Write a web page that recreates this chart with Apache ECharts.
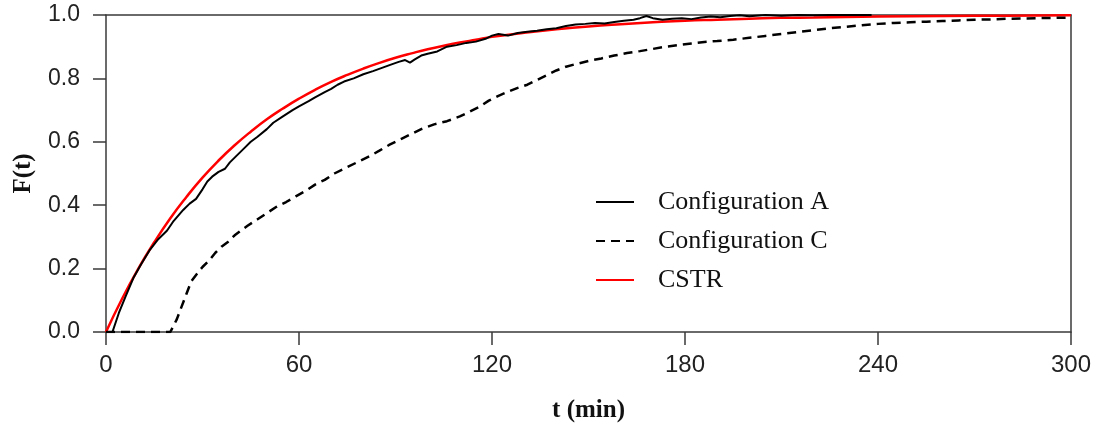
<!DOCTYPE html>
<html>
<head>
<meta charset="utf-8">
<script src="https://cdn.jsdelivr.net/npm/echarts@6/dist/echarts.min.js"></script>
<style>
  html, body { margin: 0; padding: 0; background: #fff; }
  #chart { width: 1093px; height: 425px; }
</style>
</head>
<body>
<div id="chart"></div>
<script>
// Cumulative residence time distribution F(t) vs time (min)
const xTicks = [0, 60, 120, 180, 240, 300];
const yTicks = [0, 0.2, 0.4, 0.6, 0.8, 1.0];

// Configuration A: [t (min), F(t)]
const configA = [
  [0,0],[2,0],[4,0.06],[6,0.11],[8.5,0.17],[11,0.215],[13.7,0.26],[16,0.29],[19,0.32],[21,0.35],
  [24,0.385],[26,0.405],[28,0.42],[30,0.45],[31.5,0.475],[33,0.49],[35,0.505],[37,0.515],[38.5,0.535],
  [40,0.55],[41.5,0.565],[43,0.58],[45,0.6],[47,0.615],[50,0.64],[52,0.66],[55,0.68],[58,0.7],
  [60,0.712],[63,0.728],[65,0.74],[68,0.757],[70,0.767],[72,0.78],[74,0.79],[77,0.8],[80,0.813],
  [83,0.823],[86,0.834],[89,0.845],[91,0.852],[93,0.858],[94.5,0.85],[96,0.86],[98,0.872],[100,0.878],
  [103,0.885],[106,0.9],[109,0.905],[112,0.912],[115,0.916],[118,0.925],[120,0.935],[122,0.94],
  [125,0.935],[128,0.943],[131,0.947],[134,0.95],[137,0.955],[140,0.958],[143,0.965],[146,0.97],
  [149,0.972],[152,0.975],[155,0.973],[158,0.978],[161,0.982],[164,0.985],[166,0.99],[168,0.997],
  [170,0.99],[173,0.985],[176,0.988],[179,0.99],[182,0.987],[185,0.992],[188,0.995],[191,0.993],
  [194,0.997],[197,0.999],[200,0.996],[205,1.0],[210,0.998],[215,1.0],[220,0.999],[225,1.0],
  [230,1.0],[238,1.0]
];

// Configuration C: [t (min), F(t)]
const configC = [
  [0,0],[5,0],[10,0],[15,0],[20,0],[21,0.02],[22,0.04],[23.5,0.08],[25,0.12],[26.5,0.16],[28,0.18],
  [30,0.205],[32,0.225],[34,0.25],[36,0.27],[38,0.285],[40,0.305],[42,0.32],[44,0.335],[47,0.355],
  [50,0.375],[53,0.395],[56,0.41],[59,0.428],[62,0.445],[65,0.465],[68,0.48],[71,0.5],[75,0.52],
  [78,0.535],[82,0.555],[85,0.572],[88,0.59],[92,0.61],[95,0.625],[98,0.64],[102,0.655],[106,0.665],
  [110,0.68],[113,0.695],[116,0.71],[119,0.73],[122,0.745],[125,0.758],[128,0.77],[131,0.78],
  [134,0.795],[137,0.81],[140,0.825],[143,0.837],[146,0.845],[150,0.855],[154,0.863],[158,0.872],
  [162,0.88],[166,0.886],[170,0.893],[174,0.9],[178,0.905],[182,0.91],[186,0.915],[190,0.918],
  [195,0.922],[200,0.928],[205,0.934],[210,0.94],[215,0.946],[220,0.952],[225,0.958],[230,0.963],
  [235,0.968],[240,0.972],[245,0.975],[250,0.977],[255,0.979],[260,0.981],[265,0.983],[270,0.985],
  [275,0.986],[280,0.988],[285,0.989],[290,0.99],[295,0.991],[300,0.992]
];

// Ideal CSTR: [t (min), F(t)]
const cstr = [
  [0,0],[5,0.105],[10,0.199],[15,0.283],[20,0.359],[25,0.426],[30,0.487],[35,0.541],[40,0.589],
  [45,0.632],[50,0.671],[55,0.705],[60,0.736],[65,0.764],[70,0.789],[75,0.811],[80,0.831],[85,0.849],
  [90,0.865],[95,0.879],[100,0.892],[105,0.903],[110,0.913],[115,0.922],[120,0.931],[130,0.944],
  [140,0.955],[150,0.964],[160,0.971],[170,0.977],[180,0.982],[190,0.985],[200,0.988],[210,0.991],
  [220,0.992],[240,0.995],[260,0.997],[280,0.998],[300,0.999]
];

const seriesNames = ['Configuration A', 'Configuration C', 'CSTR'];

const axisColor = '#3a3a3a';
const serif = '"Liberation Serif", "Times New Roman", serif';
const chart = echarts.init(document.getElementById('chart'), null, { renderer: 'canvas' });

chart.setOption({
  animation: false,
  backgroundColor: '#ffffff',
  grid: { left: 106, right: 22, top: 15, bottom: 93, containLabel: false, outerBoundsMode: 'none' },
  legend: {
    orient: 'vertical',
    left: 590,
    top: 184,
    itemWidth: 38,
    itemHeight: 14,
    itemGap: 13,
    data: seriesNames,
    itemStyle: { opacity: 0 },
    textStyle: {
      fontFamily: serif,
      fontSize: 26,
      color: '#111',
      padding: [0, 0, 0, 19]
    }
  },
  xAxis: [
    {
      type: 'value',
      min: 0, max: 300, interval: 60,
      position: 'bottom',
      name: 't (min)',
      nameLocation: 'middle',
      nameGap: 66,
      nameTextStyle: { fontFamily: serif, fontWeight: 'bold', fontSize: 25, color: '#111' },
      axisLine: { show: true, onZero: false, lineStyle: { color: axisColor, width: 1.5 } },
      axisTick: { show: true, inside: false, length: 13, lineStyle: { color: axisColor, width: 1.5 } },
      axisLabel: {
        margin: 21,
        fontFamily: '"Liberation Sans Narrow", "Liberation Sans", Arial, sans-serif',
        fontSize: 24, color: '#222',
        formatter: v => (xTicks.includes(v) ? String(v) : '')
      },
      splitLine: { show: false }
    },
    {
      type: 'value',
      min: 0, max: 300, interval: 60,
      position: 'top',
      axisLine: { show: true, onZero: false, lineStyle: { color: axisColor, width: 1.5 } },
      axisTick: { show: false },
      axisLabel: { show: false },
      splitLine: { show: false }
    }
  ],
  yAxis: [
    {
      type: 'value',
      min: 0, max: 1, interval: 0.2,
      position: 'left',
      name: 'F(t)',
      nameLocation: 'middle',
      nameGap: 70,
      nameRotate: 90,
      nameTextStyle: { fontFamily: serif, fontWeight: 'bold', fontSize: 25, color: '#111' },
      axisLine: { show: true, onZero: false, lineStyle: { color: axisColor, width: 1.5 } },
      axisTick: { show: true, inside: false, length: 13, lineStyle: { color: axisColor, width: 1.5 } },
      axisLabel: {
        margin: 26,
        fontFamily: '"Liberation Sans", Arial, sans-serif',
        fontSize: 23, color: '#222',
        formatter: v => {
          const t = yTicks.find(y => Math.abs(y - v) < 1e-9);
          return t === undefined ? '' : t.toFixed(1);
        }
      },
      splitLine: { show: false }
    },
    {
      type: 'value',
      min: 0, max: 1, interval: 0.2,
      position: 'right',
      axisLine: { show: true, onZero: false, lineStyle: { color: axisColor, width: 1.5 } },
      axisTick: { show: false },
      axisLabel: { show: false },
      splitLine: { show: false }
    }
  ],
  series: [
    {
      name: seriesNames[0],
      type: 'line',
      data: configA,
      symbol: 'none',
      z: 3,
      lineStyle: { color: '#000', width: 2 },
      itemStyle: { color: '#000' }
    },
    {
      name: seriesNames[1],
      type: 'line',
      data: configC,
      symbol: 'none',
      z: 3,
      lineStyle: { color: '#000', width: 2.5, type: [9, 6] },
      itemStyle: { color: '#000' }
    },
    {
      name: seriesNames[2],
      type: 'line',
      data: cstr,
      symbol: 'none',
      smooth: true,
      z: 2,
      lineStyle: { color: '#ff0000', width: 2.5 },
      itemStyle: { color: '#ff0000' }
    }
  ]
});
</script>
</body>
</html>
